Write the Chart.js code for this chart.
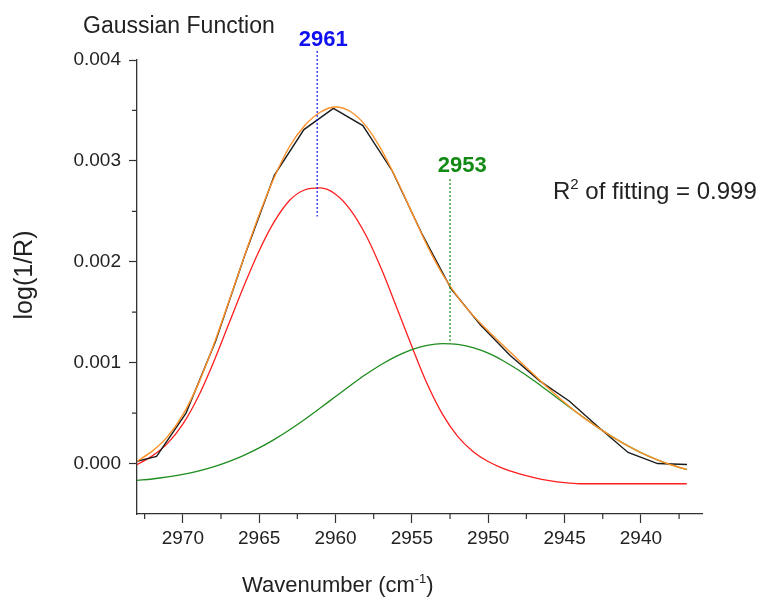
<!DOCTYPE html>
<html>
<head>
<meta charset="utf-8">
<title>Gaussian Function</title>
<script src="https://cdn.jsdelivr.net/npm/chart.js@4.4.0/dist/chart.umd.min.js"></script>
<style>
  html, body { margin: 0; padding: 0; background: #fff; }
  #wrap { width: 763px; height: 597px; }
</style>
</head>
<body>
<div id="wrap"><canvas id="fitChart" width="763" height="597"></canvas></div>
<script>
// wavenumber grid of the fitted curves (cm-1)
const fitWave = [2973, 2972, 2971, 2970, 2969, 2968, 2967, 2966, 2965, 2964,
                 2963, 2962, 2961, 2960, 2959, 2958, 2957, 2956, 2955, 2954,
                 2953, 2952, 2951, 2950, 2949, 2948, 2947, 2946, 2945, 2944,
                 2943, 2942, 2941, 2940, 2939, 2938, 2937];

// gaussian component centred near 2961
const peak2961 = [-0.00001, 0.000076, 0.00020, 0.00039, 0.00066, 0.00100, 0.00138, 0.00176, 0.00211, 0.00240,
                  0.00261, 0.002714, 0.002732, 0.00267, 0.00251, 0.00226, 0.00193, 0.00155, 0.00116, 0.00079,
                  0.00049, 0.00027, 0.00012, 0.00002, -0.00005, -0.00010, -0.00014, -0.00017, -0.00019, -0.00020,
                  -0.00020, -0.00020, -0.00020, -0.00020, -0.00020, -0.00020, -0.00020];

// gaussian component centred near 2953
const peak2953 = [-0.000167, -0.000153, -0.000133, -0.000108, -0.000075, -0.000033, 0.000019, 0.000081, 0.000155, 0.00024,
                  0.000335, 0.000439, 0.00055, 0.000664, 0.000777, 0.000885, 0.000982, 0.001065, 0.00113, 0.001172,
                  0.001189, 0.001182, 0.001149, 0.001094, 0.001017, 0.000925, 0.000821, 0.000709, 0.000595, 0.000483,
                  0.000376, 0.000277, 0.000188, 0.000109, 0.000042, -0.000014, -0.000059];

// cumulative fit
const fitTotal = [0.000023, 0.000123, 0.000267, 0.000482, 0.000785, 0.001167, 0.001599, 0.002041, 0.002465, 0.00284,
                  0.003145, 0.003353, 0.003482, 0.003534, 0.003487, 0.003345, 0.003112, 0.002815, 0.00249, 0.002162,
                  0.001879, 0.001652, 0.001469, 0.001314, 0.001167, 0.001025, 0.000881, 0.000739, 0.000605, 0.000483,
                  0.000376, 0.000277, 0.000188, 0.000109, 0.000042, -0.000014, -0.000059];

// measured spectrum
const measWave = [2973.65, 2971.72, 2969.79, 2967.86, 2965.93, 2964.00, 2962.07, 2960.14, 2958.21, 2956.28,
                  2954.35, 2952.42, 2950.49, 2948.56, 2946.63, 2944.70, 2942.77, 2940.84, 2938.91, 2936.98];
const measAbs  = [0.00000, 0.00007, 0.00050, 0.00121, 0.00207, 0.00286, 0.00331, 0.00352, 0.00335, 0.00290,
                  0.00228, 0.00173, 0.00137, 0.00107, 0.00082, 0.00062, 0.00036, 0.00011, 0.00000, -0.00001];

// peak markers
const peakNames  = ['2961', '2953'];
const peakCenter = [2961.2, 2952.5];
const peakTop    = [0.00409, 0.00282];
const peakBottom = [0.00245, 0.00121];

// axis ticks
const xTicks = [2970, 2965, 2960, 2955, 2950, 2945, 2940];
const xMinor = [2972.5, 2967.5, 2962.5, 2957.5, 2952.5, 2947.5, 2942.5, 2937.5];
const yTicks = [0, 0.001, 0.002, 0.003, 0.004];
const yMinor = [0.0005, 0.0015, 0.0025, 0.0035];

const FONT = '"Liberation Sans", Arial, sans-serif';
const INK = '#222';
const peakColors = ['#1010f0', '#138a13'];
// where the peak numbers sit (wavenumber, value of text baseline)
const peakLabelAt = [[2960.8, 0.00414], [2951.7, 0.00289]];

const pairs = (xs, ys) => xs.map((v, i) => ({ x: v, y: ys[i] }));

const markerSets = peakNames.map((n, i) => ({
  data: [{ x: peakCenter[i], y: peakTop[i] }, { x: peakCenter[i], y: peakBottom[i] }],
  borderColor: peakColors[i],
  borderWidth: 1.2,
  borderDash: [2, 2],
  clip: false
}));

// small helper: text runs with optional superscripts
function drawRuns(ctx, runs, x, y) {
  runs.forEach(r => {
    ctx.font = r.size + 'px ' + FONT;
    ctx.fillText(r.t, x, y - (r.rise || 0));
    x += ctx.measureText(r.t).width;
  });
}

const decor = {
  id: 'decor',
  afterDraw(chart) {
    const { ctx, chartArea } = chart;
    const xs = chart.scales.x, ys = chart.scales.y;
    ctx.save();

    // minor ticks
    ctx.strokeStyle = '#333';
    ctx.lineWidth = 1.2;
    ctx.beginPath();
    xMinor.forEach(v => {
      const px = xs.getPixelForValue(v);
      ctx.moveTo(px, chartArea.bottom);
      ctx.lineTo(px, chartArea.bottom + 5);
    });
    yMinor.forEach(v => {
      const py = ys.getPixelForValue(v);
      ctx.moveTo(chartArea.left, py);
      ctx.lineTo(chartArea.left - 5, py);
    });
    ctx.stroke();

    // peak numbers
    ctx.textAlign = 'center';
    ctx.textBaseline = 'alphabetic';
    ctx.font = 'bold 22px ' + FONT;
    peakNames.forEach((n, i) => {
      ctx.fillStyle = peakColors[i];
      ctx.fillText(n, xs.getPixelForValue(peakLabelAt[i][0]), ys.getPixelForValue(peakLabelAt[i][1]));
    });

    ctx.fillStyle = INK;
    ctx.textAlign = 'left';
    ctx.font = '23px ' + FONT;
    ctx.fillText('Gaussian Function', 83, 33);

    drawRuns(ctx, [
      { t: 'R', size: 24 },
      { t: '2', size: 15, rise: 10 },
      { t: ' of fitting = 0.999', size: 24 }
    ], 553, 199);

    drawRuns(ctx, [
      { t: 'Wavenumber (cm', size: 22 },
      { t: '-1', size: 13, rise: 9 },
      { t: ')', size: 22 }
    ], 242, 592);

    ctx.translate(25, 275);
    ctx.rotate(-Math.PI / 2);
    ctx.textAlign = 'center';
    ctx.textBaseline = 'middle';
    ctx.font = '25px ' + FONT;
    ctx.fillText('log(1/R)', 0, 0);

    ctx.restore();
  }
};

Chart.defaults.font.family = FONT;

new Chart(document.getElementById('fitChart'), {
  type: 'scatter',
  data: {
    datasets: [
      ...markerSets,
      { data: pairs(fitWave, fitTotal), borderColor: 'rgb(255,145,40)', borderWidth: 1.4, cubicInterpolationMode: 'monotone' },
      { data: pairs(measWave, measAbs), borderColor: '#1c1c1c', borderWidth: 1.4, tension: 0 },
      { data: pairs(fitWave, peak2953), borderColor: 'rgb(30,140,30)', borderWidth: 1.3, cubicInterpolationMode: 'monotone' },
      { data: pairs(fitWave, peak2961), borderColor: 'rgb(255,30,30)', borderWidth: 1.3, cubicInterpolationMode: 'monotone' }
    ].map(d => Object.assign({ showLine: true, pointRadius: 0, fill: false }, d))
  },
  options: {
    responsive: false,
    animation: false,
    events: [],
    layout: { padding: { left: 0, top: 60, right: 61, bottom: 0 } },
    plugins: { legend: { display: false }, tooltip: { enabled: false }, title: { display: false } },
    scales: {
      x: {
        type: 'linear',
        reverse: true,
        min: 2936,
        max: 2973,
        afterBuildTicks: s => { s.ticks = xTicks.map(v => ({ value: v })); },
        afterFit: s => { s.height = 83; },
        grid: { drawOnChartArea: false, drawTicks: true, tickLength: 9, tickColor: '#333', tickWidth: 1.2 },
        border: { display: true, color: '#333', width: 1.3 },
        ticks: { font: { size: 19 }, color: INK, padding: 4, maxRotation: 0, callback: v => String(v) }
      },
      y: {
        type: 'linear',
        min: -0.0005,
        max: 0.004,
        afterBuildTicks: s => { s.ticks = yTicks.map(v => ({ value: v })); },
        afterFit: s => { s.width = 137; },
        grid: { drawOnChartArea: false, drawTicks: true, tickLength: 8, tickColor: '#333', tickWidth: 1.2 },
        border: { display: true, color: '#333', width: 1.3 },
        ticks: { font: { size: 19 }, color: INK, padding: 8, callback: v => v.toFixed(3) }
      }
    }
  },
  plugins: [decor]
});
</script>
</body>
</html>
